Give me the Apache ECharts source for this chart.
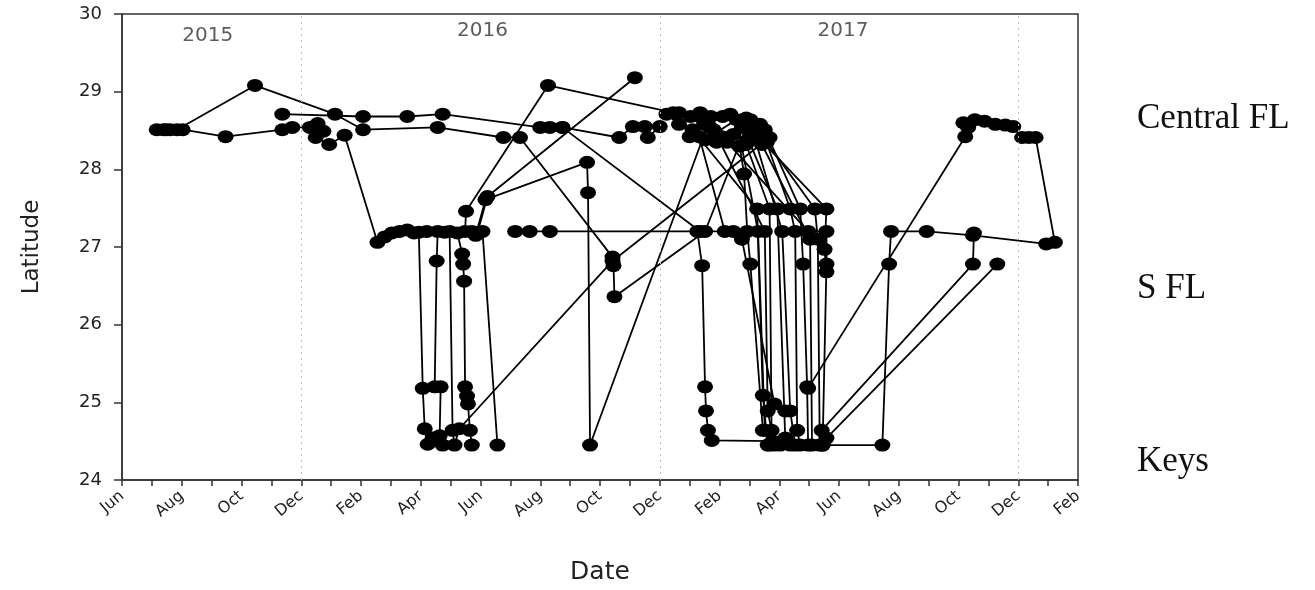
<!DOCTYPE html>
<html><head><meta charset="utf-8">
<script src="https://cdn.jsdelivr.net/npm/echarts/dist/echarts.min.js"></script>
<style>html,body{margin:0;padding:0;background:#fff}#c{width:1315px;height:590px}</style>
</head><body><div id="c"></div>
<script>
// ---- tick labels / annotations ----
const tickLabels = ['Jun','Aug','Oct','Dec','Feb','Apr','Jun','Aug','Oct','Dec','Feb','Apr','Jun','Aug','Oct','Dec','Feb'];
const yearLabels = [['2015','2015-08-28',29.72],['2016','2016-06-03',29.78],['2017','2017-06-05',29.79]];
const yearBoundaries = ['2015-12-01','2016-12-01','2017-12-01'];
const regionLabels = [['Central FL',28.65],['S FL',26.46],['Keys',24.24]];

// ---- tracks: [date, latitude] ----
const trackA = [['2015-07-06',28.51],['2015-07-13',28.51],['2015-07-20',28.51],['2015-07-27',28.51],['2015-10-15',29.08],['2016-01-05',28.71],['2016-02-03',28.51],['2016-04-18',28.54],['2016-06-24',28.41],['2016-07-11',28.41],['2016-10-14',26.87],['2016-10-15',26.76],['2016-10-16',26.36],['2017-01-17',27.20],['2017-02-27',28.58]];
const trackB = [['2015-07-16',28.51],['2015-08-02',28.51],['2015-09-15',28.42],['2015-11-12',28.51],['2015-11-22',28.54],['2015-12-10',28.54],['2015-12-18',28.59],['2015-12-24',28.49],['2015-12-16',28.41],['2015-12-30',28.32],['2016-01-15',28.44],['2016-02-17',27.06],['2016-02-24',27.13],['2016-03-02',27.18],['2016-03-10',27.20],['2016-03-18',27.22],['2016-03-25',27.18],['2016-03-30',27.19],['2016-04-03',25.18],['2016-04-05',24.66],['2016-04-08',24.46],['2016-04-13',24.54]];
const trackC = [['2015-11-12',28.71],['2016-02-03',28.68],['2016-03-18',28.68],['2016-04-23',28.71],['2016-08-01',28.54],['2016-08-11',28.54],['2016-08-24',28.54],['2016-10-21',28.41],['2016-11-04',28.55],['2016-11-16',28.55],['2016-11-19',28.41],['2016-12-01',28.55]];
const trackD = [['2016-04-07',27.20],['2016-04-18',27.20],['2016-04-17',26.82],['2016-04-15',25.20],['2016-04-21',25.20],['2016-04-20',24.57],['2016-04-23',24.45]];
const trackE = [['2016-04-25',27.19],['2016-04-30',27.20],['2016-05-03',24.64],['2016-05-05',24.45],['2016-05-10',24.66],['2016-10-14',26.82],['2017-03-22',28.41]];
const trackF = [['2016-05-08',27.18],['2016-05-13',26.91],['2016-05-14',26.78],['2016-05-15',26.56],['2016-05-16',25.20],['2016-05-18',25.08],['2016-05-19',24.98],['2016-05-21',24.64],['2016-05-23',24.45]];
const trackG = [['2016-05-16',27.20],['2016-05-17',27.46],['2016-08-09',29.08],['2016-12-15',28.73],['2017-01-02',28.68],['2017-01-12',28.73]];
const trackH = [['2016-05-23',27.20],['2016-05-29',27.19],['2016-06-08',27.65],['2016-11-06',29.18]];
const trackI = [['2016-06-03',27.20],['2016-06-18',24.45]];
const trackJ = [['2016-05-27',27.15],['2016-06-06',27.61],['2016-09-18',28.09],['2016-09-19',27.70],['2016-09-21',24.45],['2017-01-20',28.58]];
const trackK = [['2016-07-06',27.20],['2016-07-21',27.20],['2016-08-11',27.20],['2017-01-09',27.20],['2017-01-14',26.76],['2017-01-17',25.20],['2017-01-18',24.89],['2017-01-20',24.64],['2017-01-24',24.51],['2017-03-25',24.50],['2017-05-15',24.45],['2017-07-15',24.45],['2017-07-22',26.78],['2017-07-24',27.20],['2017-08-30',27.20],['2017-10-16',27.15],['2017-12-30',27.04]];
const trackL = [['2016-08-24',28.54],['2017-01-12',27.20],['2017-02-14',27.20]];
const trackF1 = [['2016-12-08',28.71],['2016-12-21',28.58],['2017-01-04',28.51],['2017-03-09',27.49],['2017-03-15',25.09],['2017-03-20',24.45]];
const trackF2 = [['2016-12-21',28.73],['2017-01-11',28.68],['2017-01-26',28.51],['2017-03-17',27.20],['2017-03-20',24.89],['2017-03-27',24.45]];
const trackF3 = [['2017-01-01',28.42],['2017-01-16',28.58],['2017-01-29',28.35],['2017-02-14',28.45],['2017-02-26',28.32],['2017-03-22',27.49],['2017-03-24',24.64],['2017-04-02',24.45]];
const trackF4 = [['2017-01-23',28.68],['2017-02-04',28.68],['2017-02-22',28.54],['2017-02-28',28.39],['2017-03-30',27.49],['2017-04-07',24.54],['2017-04-12',24.45]];
const trackF5 = [['2017-02-11',28.71],['2017-03-02',28.64],['2017-03-12',28.58],['2017-04-12',27.49],['2017-04-17',27.20],['2017-04-19',24.64],['2017-04-22',24.45]];
const trackF6 = [['2017-02-26',28.66],['2017-03-17',28.51],['2017-04-22',27.49],['2017-04-25',26.78],['2017-04-29',25.20],['2017-04-30',24.45]];
const trackF7 = [['2017-03-07',28.45],['2017-03-19',28.35],['2017-05-07',27.49],['2017-05-10',27.10],['2017-05-12',24.45]];
const trackF8 = [['2017-02-20',28.30],['2017-02-24',27.94],['2017-02-27',27.20],['2017-03-02',26.78],['2017-03-15',24.64]];
const trackF9 = [['2017-01-11',28.42],['2017-02-06',27.20],['2017-02-22',27.10],['2017-03-27',24.98],['2017-04-07',24.89]];
const trackF10 = [['2017-02-08',28.35],['2017-04-30',27.20],['2017-05-19',27.20],['2017-05-19',26.78],['2017-05-15',24.45]];
const trackF11 = [['2017-03-12',28.39],['2017-05-19',27.49],['2017-05-17',26.97],['2017-05-19',26.68]];
const trackF12 = [['2017-01-17',28.38],['2017-02-17',28.64],['2017-03-10',27.20],['2017-03-17',24.64],['2017-03-22',24.45]];
const trackF13 = [['2017-02-03',28.42],['2017-03-04',28.51],['2017-04-04',27.20],['2017-04-12',24.89],['2017-04-17',24.45]];
const trackF14 = [['2017-01-22',28.54],['2017-03-14',28.32],['2017-05-02',27.10],['2017-05-04',24.45]];
const trackN = [['2017-05-14',24.64],['2017-10-16',26.78],['2017-10-17',27.18]];
const trackO = [['2017-05-19',24.54],['2017-11-10',26.78]];
const trackP = [['2017-04-30',25.18],['2017-10-08',28.42],['2017-10-11',28.54],['2017-10-06',28.60],['2017-10-18',28.64],['2017-10-28',28.62],['2017-11-08',28.58],['2017-11-18',28.57],['2017-11-26',28.55],['2017-12-05',28.41],['2017-12-12',28.41],['2017-12-19',28.41],['2018-01-08',27.06]];

const tracks = [trackA,trackB,trackC,trackD,trackE,trackF,trackG,trackH,trackI,trackJ,trackK,trackL,
  trackF1,trackF2,trackF3,trackF4,trackF5,trackF6,trackF7,trackF8,trackF9,trackF10,trackF11,
  trackF12,trackF13,trackF14,trackN,trackO,trackP];

// months since 1 Jun 2015 (axis is linear in months)
function toM(s){const p=s.split('-').map(Number);const dim=new Date(p[0],p[1],0).getDate();return (p[0]-2015)*12+(p[1]-6)+(p[2]-1)/dim;}

const FONT='DejaVu Sans';
const series = tracks.map(t => ({
  type:'line', data:t.map(p=>[toM(p[0]),p[1]]),
  symbol:'circle', symbolSize:[16,13], showAllSymbol:true,
  itemStyle:{color:'#000'}, lineStyle:{color:'#000',width:1.8},
  animation:false, z:3, clip:false
}));
series.push({
  type:'scatter', data:yearLabels.map(d=>({name:d[0],value:[toM(d[1]),d[2]]})),
  symbolSize:1, itemStyle:{color:'rgba(0,0,0,0)'}, silent:true, animation:false,
  label:{show:true,position:'inside',formatter:p=>p.name,fontSize:20,color:'#333',fontFamily:FONT},
  markLine:{silent:true,symbol:['none','none'],label:{show:false},
    lineStyle:{type:[2,4],color:'#bbb',width:1},
    data:yearBoundaries.map(d=>({xAxis:toM(d)}))}
});

const chart = echarts.init(document.getElementById('c'));
chart.setOption({
  animation:false,
  grid:{left:122,right:237,top:14,bottom:108,show:true,borderColor:'#333',borderWidth:1.5,backgroundColor:'#fff'},
  xAxis:{type:'value',min:0,max:32,interval:1,
    axisLine:{show:true,lineStyle:{color:'#333',width:1.5}},
    axisTick:{show:true,length:6,lineStyle:{color:'#333',width:1.5}},
    splitLine:{show:false},
    axisLabel:{rotate:40,margin:14,fontSize:16,color:'#222',fontFamily:FONT,
      formatter:v=>(Math.round(v)%2===0?tickLabels[Math.round(v)/2]:'')},
    name:'Date',nameLocation:'middle',nameGap:80,
    nameTextStyle:{fontSize:25,color:'#222',fontFamily:FONT}},
  yAxis:{type:'value',min:24,max:30,interval:1,
    axisLine:{show:true,lineStyle:{color:'#333',width:1.5}},
    axisTick:{show:true,length:8,lineStyle:{color:'#333',width:1.5}},
    splitLine:{show:false},
    axisLabel:{margin:20,fontSize:18,color:'#222',fontFamily:FONT},
    name:'Latitude',nameLocation:'middle',nameGap:78,nameRotate:90,
    nameTextStyle:{fontSize:23,color:'#222',fontFamily:FONT}},
  series:series
});
chart.setOption({graphic:regionLabels.map(([t,lat])=>({
  type:'text',x:1137,y:chart.convertToPixel({yAxisIndex:0},lat),
  style:{text:t,font:'35px "Liberation Serif"',fill:'#111',verticalAlign:'middle'}
}))});
</script></body></html>
